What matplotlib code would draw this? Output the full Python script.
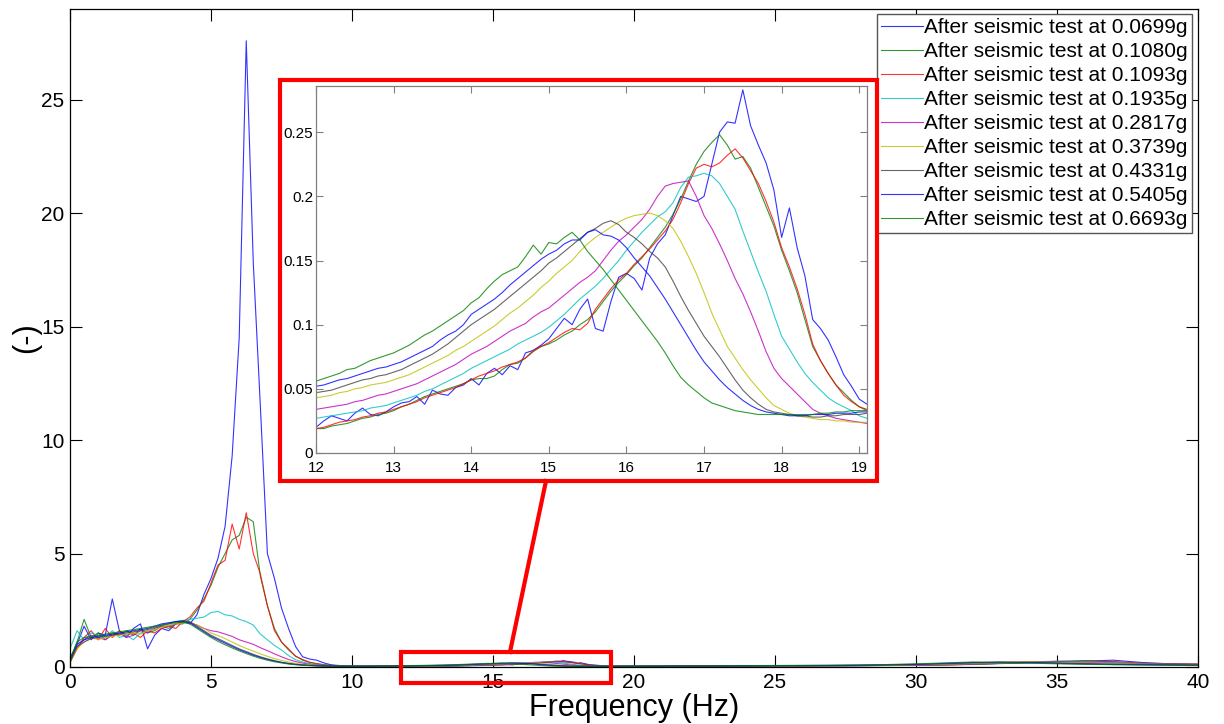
import numpy as np
import matplotlib
matplotlib.use("Agg")
import matplotlib.pyplot as plt
from matplotlib.patches import Rectangle
from matplotlib.lines import Line2D

plt.rcParams["font.family"] = ["Liberation Sans", "DejaVu Sans"]

# ---------------------------------------------------------
# DATOS
# ---------------------------------------------------------

labels = [
    "After seismic test at 0.0699g",
    "After seismic test at 0.1080g",
    "After seismic test at 0.1093g",
    "After seismic test at 0.1935g",
    "After seismic test at 0.2817g",
    "After seismic test at 0.3739g",
    "After seismic test at 0.4331g",
    "After seismic test at 0.5405g",
    "After seismic test at 0.6693g",
]

# colores por defecto de MATLAB (versiones antiguas)
colors = [
    (0.0, 0.0, 1.0),
    (0.0, 0.5, 0.0),
    (1.0, 0.0, 0.0),
    (0.0, 0.75, 0.75),
    (0.75, 0.0, 0.75),
    (0.75, 0.75, 0.0),
    (0.25, 0.25, 0.25),
    (0.0, 0.0, 1.0),
    (0.0, 0.5, 0.0),
]

freq_low = np.arange(0, 12, 0.25)
freq_zoom = np.round(np.arange(12.0, 19.15, 0.1), 1)
freq_high = np.arange(20, 41, 1)

# 0 - 11.75 Hz
low_0699 = [0.4, 1.0, 1.8, 1.2, 1.5, 1.4, 3.0, 1.6,
            1.3, 1.7, 1.9, 0.8, 1.4, 1.7, 1.6, 1.9,
            2.0, 1.9, 2.3, 3.2, 3.9, 4.8, 6.2, 9.3,
            14.5, 27.6, 17.8, 11.5, 5.0, 3.9, 2.6, 1.7,
            0.9, 0.45, 0.35, 0.3, 0.18, 0.1, 0.07, 0.05,
            0.04, 0.035, 0.03, 0.028, 0.025, 0.024, 0.022, 0.021]
low_1080 = [0.3, 1.1, 2.1, 1.3, 1.5, 1.2, 1.5, 1.4,
            1.6, 1.4, 1.7, 1.5, 1.6, 1.8, 1.7, 1.9,
            1.9, 2.1, 2.5, 3.0, 3.6, 4.4, 5.0, 5.6,
            5.8, 6.6, 6.4, 4.0, 2.7, 1.7, 1.1, 0.75,
            0.48, 0.3, 0.2, 0.14, 0.1, 0.07, 0.05, 0.04,
            0.035, 0.03, 0.028, 0.026, 0.024, 0.022, 0.02, 0.019]
low_1093 = [0.2, 0.8, 1.3, 1.6, 1.2, 1.7, 1.3, 1.6,
            1.4, 1.5, 1.3, 1.6, 1.5, 1.7, 1.8, 1.7,
            2.0, 2.2, 2.6, 2.9, 3.7, 4.5, 4.7, 6.3,
            5.2, 6.8, 5.0, 4.1, 2.7, 1.6, 1.1, 0.8,
            0.47, 0.33, 0.21, 0.15, 0.1, 0.07, 0.05, 0.04,
            0.03, 0.028, 0.026, 0.024, 0.022, 0.021, 0.02, 0.019]
low_1935 = [0.8, 1.6, 1.2, 1.5, 1.4, 1.3, 1.6, 1.3,
            1.4, 1.2, 1.5, 1.6, 1.7, 1.8, 1.9, 2.0,
            2.05, 2.1, 2.15, 2.2, 2.4, 2.45, 2.3, 2.25,
            2.1, 2.0, 1.85, 1.45, 1.2, 0.95, 0.75, 0.5,
            0.32, 0.22, 0.15, 0.11, 0.08, 0.06, 0.045, 0.035,
            0.03, 0.026, 0.024, 0.023, 0.023, 0.024, 0.025, 0.026]
low_2817 = [0.3, 0.9, 1.2, 1.4, 1.3, 1.2, 1.4, 1.5,
            1.3, 1.4, 1.6, 1.5, 1.7, 1.8, 1.8, 1.9,
            2.0, 1.95, 1.85, 1.7, 1.6, 1.55, 1.45, 1.35,
            1.2, 1.1, 1.0, 0.85, 0.72, 0.58, 0.45, 0.33,
            0.24, 0.17, 0.12, 0.09, 0.07, 0.05, 0.04, 0.032,
            0.028, 0.026, 0.026, 0.027, 0.028, 0.03, 0.031, 0.033]
low_3739 = [0.2, 0.8, 1.1, 1.3, 1.2, 1.3, 1.35, 1.4,
            1.45, 1.5, 1.45, 1.6, 1.65, 1.75, 1.85, 1.9,
            1.95, 1.95, 1.85, 1.7, 1.5, 1.38, 1.25, 1.1,
            0.95, 0.82, 0.7, 0.58, 0.47, 0.37, 0.29, 0.22,
            0.16, 0.12, 0.09, 0.07, 0.05, 0.04, 0.033, 0.03,
            0.028, 0.029, 0.031, 0.033, 0.035, 0.037, 0.039, 0.041]
low_4331 = [0.2, 0.9, 1.1, 1.25, 1.3, 1.35, 1.4, 1.45,
            1.5, 1.55, 1.6, 1.65, 1.75, 1.85, 1.92, 2.0,
            2.05, 2.0, 1.8, 1.6, 1.4, 1.25, 1.1, 0.95,
            0.8, 0.68, 0.56, 0.45, 0.36, 0.28, 0.21, 0.16,
            0.12, 0.09, 0.07, 0.055, 0.045, 0.04, 0.035, 0.032,
            0.03, 0.031, 0.033, 0.036, 0.039, 0.042, 0.044, 0.046]
low_5405 = [0.3, 1.0, 1.2, 1.3, 1.35, 1.4, 1.45, 1.5,
            1.55, 1.6, 1.65, 1.7, 1.8, 1.9, 1.95, 2.0,
            2.0, 1.95, 1.75, 1.55, 1.35, 1.2, 1.05, 0.9,
            0.76, 0.64, 0.52, 0.42, 0.33, 0.26, 0.2, 0.15,
            0.11, 0.085, 0.065, 0.052, 0.044, 0.039, 0.035, 0.033,
            0.033, 0.035, 0.037, 0.04, 0.043, 0.046, 0.048, 0.05]
low_6693 = [0.3, 1.1, 1.3, 1.35, 1.4, 1.45, 1.5, 1.55,
            1.6, 1.65, 1.7, 1.75, 1.8, 1.85, 1.9, 1.95,
            1.98, 1.9, 1.7, 1.5, 1.3, 1.13, 0.98, 0.84,
            0.71, 0.59, 0.48, 0.38, 0.3, 0.23, 0.18, 0.13,
            0.1, 0.08, 0.062, 0.05, 0.043, 0.039, 0.037, 0.037,
            0.038, 0.04, 0.042, 0.045, 0.048, 0.05, 0.052, 0.054]

# 12 - 19.1 Hz (zona ampliada)
zoom_0699 = [.020, .025, .029, .027, .025, .031, .035, .030, .029, .032,
             .036, .039, .040, .044, .038, .049, .046, .045, .051, .053,
             .058, .053, .062, .066, .061, .068, .065, .078, .080, .084,
             .089, .097, .105, .100, .112, .120, .097, .095, .118, .137,
             .140, .136, .127, .152, .163, .170, .185, .200, .198, .196,
             .200, .225, .250, .258, .257, .283, .255, .240, .226, .205,
             .168, .191, .160, .138, .104, .097, .088, .075, .061, .052,
             .042, .038]
zoom_1080 = [.019, .019, .021, .022, .023, .025, .027, .028, .030, .031,
             .033, .036, .038, .041, .044, .046, .048, .050, .052, .054,
             .057, .058, .058, .060, .065, .069, .070, .074, .079, .083,
             .085, .088, .092, .095, .100, .104, .110, .118, .126, .133,
             .139, .146, .152, .160, .168, .176, .186, .198, .212, .225,
             .235, .242, .248, .240, .229, .231, .222, .207, .192, .177,
             .158, .142, .125, .104, .083, .072, .062, .053, .047, .041,
             .036, .033]
zoom_1093 = [.019, .020, .022, .024, .025, .026, .028, .029, .031, .032,
             .034, .036, .038, .040, .043, .045, .047, .049, .051, .054,
             .057, .060, .062, .064, .067, .069, .071, .074, .080, .083,
             .086, .090, .094, .097, .096, .101, .112, .120, .128, .135,
             .140, .147, .153, .159, .166, .173, .182, .195, .210, .222,
             .225, .223, .226, .232, .237, .230, .220, .210, .196, .180,
             .160, .145, .128, .108, .085, .072, .062, .053, .045, .040,
             .036, .034]
zoom_1935 = [.027, .028, .029, .030, .031, .032, .033, .035, .036, .037,
             .039, .041, .043, .045, .048, .050, .053, .056, .059, .062,
             .066, .069, .072, .075, .078, .081, .085, .088, .091, .094,
             .098, .103, .108, .114, .120, .125, .130, .136, .143, .150,
             .158, .165, .172, .178, .184, .188, .195, .207, .215, .216,
             .218, .216, .210, .200, .190, .173, .157, .141, .126, .108,
             .091, .081, .071, .062, .055, .049, .043, .039, .036, .033,
             .029, .027]
zoom_2817 = [.034, .035, .036, .037, .038, .040, .041, .043, .045, .046,
             .048, .050, .052, .054, .057, .060, .063, .066, .069, .073,
             .077, .080, .083, .087, .091, .095, .098, .101, .106, .110,
             .113, .118, .123, .128, .133, .137, .142, .150, .158, .165,
             .170, .176, .182, .190, .200, .208, .210, .211, .212, .200,
             .185, .175, .163, .150, .136, .124, .110, .095, .079, .066,
             .058, .052, .046, .040, .034, .031, .029, .027, .026, .025,
             .024, .023]
zoom_3739 = [.043, .044, .045, .047, .048, .050, .051, .053, .054, .055,
             .057, .059, .061, .064, .067, .070, .073, .076, .080, .083,
             .087, .091, .095, .099, .104, .109, .113, .118, .123, .129,
             .134, .140, .145, .150, .157, .163, .168, .172, .176, .180,
             .183, .185, .186, .187, .185, .181, .175, .165, .153, .140,
             .125, .109, .096, .083, .074, .065, .057, .050, .043, .037,
             .034, .031, .029, .028, .027, .026, .026, .025, .025, .024,
             .024, .024]
zoom_4331 = [.047, .048, .049, .051, .053, .055, .057, .058, .060, .061,
             .063, .065, .068, .071, .074, .077, .081, .085, .090, .095,
             .100, .104, .108, .112, .117, .122, .127, .132, .137, .142,
             .148, .152, .157, .162, .167, .172, .175, .179, .181, .178,
             .172, .168, .163, .157, .152, .145, .134, .122, .111, .101,
             .091, .083, .075, .066, .057, .049, .043, .038, .034, .032,
             .031, .030, .029, .029, .028, .028, .029, .029, .030, .030,
             .030, .031]
zoom_5405 = [.052, .053, .055, .057, .058, .060, .062, .064, .066, .067,
             .069, .071, .074, .077, .080, .083, .088, .092, .095, .100,
             .108, .112, .116, .120, .125, .131, .136, .141, .146, .151,
             .155, .158, .163, .166, .166, .172, .174, .170, .169, .166,
             .160, .152, .145, .138, .129, .120, .110, .100, .090, .080,
             .071, .064, .057, .051, .046, .041, .037, .034, .032, .031,
             .030, .029, .029, .029, .030, .030, .030, .031, .031, .031,
             .032, .032]
zoom_6693 = [.056, .058, .060, .062, .065, .066, .069, .072, .074, .076,
             .078, .081, .084, .088, .092, .095, .099, .103, .107, .111,
             .117, .121, .128, .134, .139, .142, .145, .153, .162, .155,
             .164, .163, .168, .172, .166, .157, .150, .143, .135, .127,
             .119, .111, .103, .095, .087, .078, .068, .059, .053, .048,
             .043, .039, .037, .035, .033, .032, .031, .030, .030, .030,
             .030, .030, .030, .030, .030, .031, .031, .032, .032, .033,
             .033, .033]

# 20 - 40 Hz
high_0699 = [.04, .04, .035, .04, .045, .05, .045, .05, .06, .07, .08,
             .09, .12, .16, .2, .22, .26, .3, .2, .14, .12]
high_1080 = [.035, .03, .04, .045, .04, .05, .05, .055, .06, .065, .08,
             .1, .11, .15, .18, .24, .28, .22, .16, .13, .12]
high_1093 = [.035, .035, .04, .04, .045, .05, .05, .055, .06, .07, .085,
             .09, .12, .16, .2, .25, .26, .24, .17, .14, .13]
high_1935 = [.03, .035, .035, .04, .045, .045, .05, .055, .065, .07, .09,
             .1, .13, .17, .22, .26, .23, .2, .15, .12, .1]
high_2817 = [.025, .03, .035, .04, .04, .045, .05, .06, .065, .075, .09,
             .11, .14, .19, .24, .22, .2, .16, .13, .11, .1]
high_3739 = [.024, .03, .035, .04, .045, .05, .055, .06, .07, .08, .1,
             .12, .16, .21, .23, .2, .18, .14, .12, .1, .09]
high_4331 = [.03, .035, .04, .045, .05, .055, .06, .065, .075, .09, .11,
             .14, .18, .22, .2, .18, .15, .12, .1, .09, .08]
high_5405 = [.032, .035, .04, .045, .05, .06, .065, .07, .08, .1, .12,
             .16, .2, .21, .19, .16, .13, .11, .1, .09, .08]
high_6693 = [.034, .04, .045, .05, .055, .06, .07, .08, .09, .11, .14,
             .18, .22, .2, .17, .14, .12, .1, .09, .08, .08]

lows = [low_0699, low_1080, low_1093, low_1935, low_2817,
        low_3739, low_4331, low_5405, low_6693]
zooms = [zoom_0699, zoom_1080, zoom_1093, zoom_1935, zoom_2817,
         zoom_3739, zoom_4331, zoom_5405, zoom_6693]
highs = [high_0699, high_1080, high_1093, high_1935, high_2817,
         high_3739, high_4331, high_5405, high_6693]

freq = np.concatenate([freq_low, freq_zoom, freq_high])

# ---------------------------------------------------------
# FIGURA
# ---------------------------------------------------------

W, H = 1224, 724
fig = plt.figure(figsize=(W / 100, H / 100), dpi=100)

ax = fig.add_axes([70 / W, 57 / H, 1128 / W, 658 / H])

handles = []
for lab, col, lo, zo, hi in zip(labels, colors, lows, zooms, highs):
    amp = np.concatenate([lo, zo, hi])
    (ln,) = ax.plot(freq, amp, color=col, lw=0.8, alpha=0.8, label=lab)
    handles.append(ln)

ax.set_xlim(0, 40)
ax.set_ylim(0, 29)
ax.set_xticks(range(0, 41, 5))
ax.set_yticks(range(0, 26, 5))
ax.tick_params(direction="in", length=8.5, width=0.8, labelsize=15,
               top=True, right=True, pad=4)
for s in ax.spines.values():
    s.set_linewidth(0.9)
ax.set_xlabel("Frequency (Hz)", fontsize=22, labelpad=1)
ax.set_ylabel("(-)", fontsize=22, labelpad=0)

ax.legend(
    handles=handles,
    loc="upper right",
    bbox_to_anchor=(1192 / W, 1 - 14 / H),
    bbox_transform=fig.transFigure,
    borderaxespad=0,
    fontsize=15,
    fancybox=False,
    framealpha=1,
    edgecolor="#555555",
    handlelength=2.0,
    handletextpad=0.05,
    labelspacing=0.24,
    borderpad=0.2,
)

# ---------------------------------------------------------
# ZONA AMPLIADA
# ---------------------------------------------------------

zoom_xlim = (12, 19.1)
zoom_ylim = (0, 0.286)

inset = fig.add_axes([316 / W, 271 / H, 551 / W, 367 / H])
for col, lo, zo, hi in zip(colors, lows, zooms, highs):
    amp = np.concatenate([lo, zo, hi])
    inset.plot(freq, amp, color=col, lw=0.8, alpha=0.8)

inset.set_xlim(*zoom_xlim)
inset.set_ylim(*zoom_ylim)
inset.set_xticks(range(12, 20))
yt = [0, 0.05, 0.1, 0.15, 0.2, 0.25]
inset.set_yticks(yt)
inset.set_yticklabels([f"{v:g}" for v in yt])
inset.tick_params(direction="in", length=5, width=0.8, labelsize=11,
                  top=True, right=True, color="#808080")
inset.tick_params(axis="x", pad=6)
inset.tick_params(axis="y", pad=2)
for s in inset.spines.values():
    s.set_color("#808080")
    s.set_linewidth(0.9)

# marcos rojos y línea de unión
ax.add_patch(Rectangle((zoom_xlim[0] - 0.25, -0.7),
                       zoom_xlim[1] - zoom_xlim[0] + 0.35, 1.36,
                       fill=False, ec="red", lw=3, clip_on=False, zorder=5))
fig.add_artist(Rectangle((280 / W, 1 - 481 / H), 597 / W, 401 / H,
                         transform=fig.transFigure, fill=False,
                         ec="red", lw=3, zorder=5))
fig.add_artist(Line2D([510 / W, 546 / W], [1 - 652 / H, 1 - 481 / H],
                      transform=fig.transFigure, color="red", lw=3,
                      zorder=5))

plt.savefig("out.png", dpi=100)
